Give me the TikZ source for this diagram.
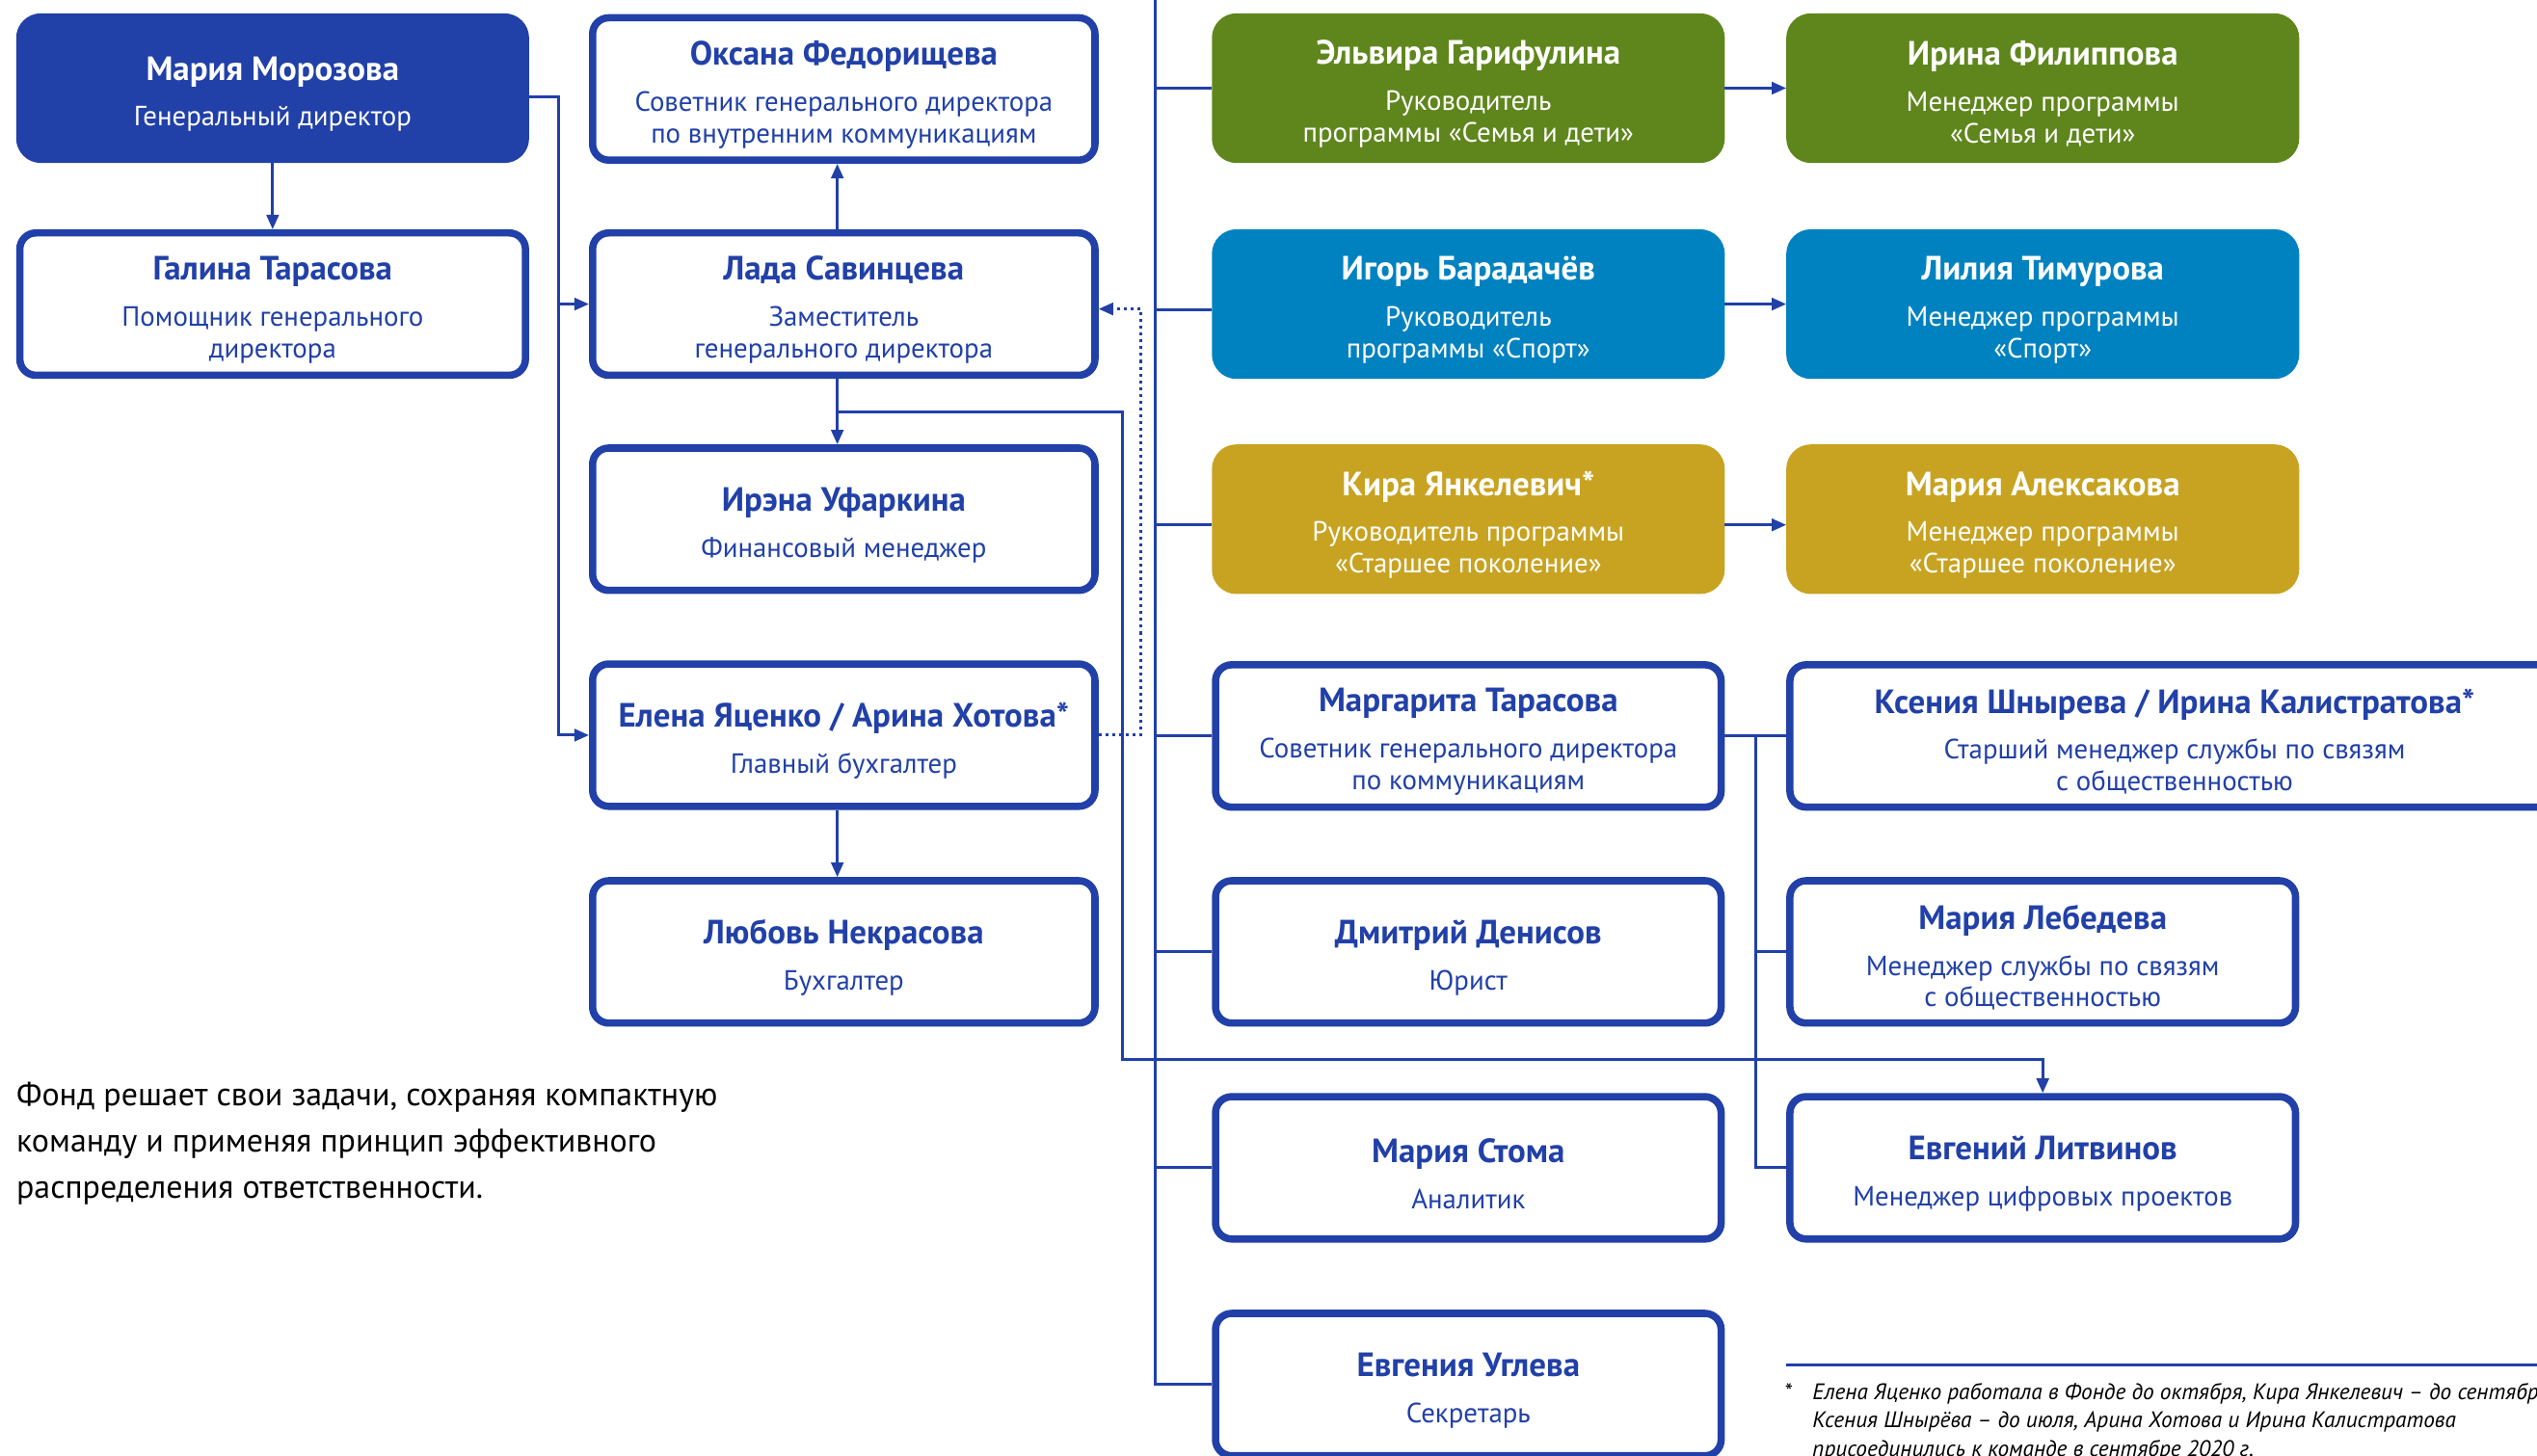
\documentclass[tikz,border=0pt]{standalone}
\usepackage{fontspec}
\setmainfont{PT Sans}
\usetikzlibrary{arrows.meta}
\definecolor{navy}{HTML}{2140A8}
\definecolor{grn}{HTML}{5F861D}
\definecolor{sky}{HTML}{0082C0}
\definecolor{gold}{HTML}{C8A322}
\newcommand\nmfont{\bfseries\fontsize{20.8}{23}\selectfont}
\newcommand\tlfont{\fontsize{17.2}{19.5}\selectfont}
\newcommand\bdfont{\fontsize{20.2}{28.5}\selectfont}
\newcommand\fnfont{\itshape\fontsize{13.9}{17.5}\selectfont}
\newcommand\nm[1]{{\nmfont\rule{0pt}{22pt}#1}}
\begin{document}
\begin{tikzpicture}[x=1pt,y=-1pt,
  box/.style={rounded corners=10pt, line width=4.5pt, minimum width=312.5pt, minimum height=88pt, inner sep=0pt, align=center, font=\tlfont},
  wbox/.style={box, draw=navy, fill=white, text=navy},
  cbox/.style={box, draw=#1, fill=#1, text=white, rounded corners=13pt},
  conn/.style={draw=navy, line width=1.8pt},
  arr/.style={conn, -{Triangle[length=9pt,width=7.5pt]}},
  dotarr/.style={arr, dash pattern=on 1.8pt off 2.4pt}]
\useasboundingbox (0,0) rectangle (1568,900);
\clip (0,0) rectangle (1568,900);

% column 1
\node[cbox=navy] (moroz) at (168.5,54.5) {\nm{Мария Морозова}\\[9pt]Генеральный директор};
\node[wbox] (galina) at (168.5,188) {\nm{Галина Тарасова}\\[9pt]Помощник генерального\\директора};

% column 2
\node[wbox, minimum width=310.5pt] (oksana) at (521.5,55) {\nm{Оксана Федорищева}\\[9pt]Советник генерального директора\\по внутренним коммуникациям};
\node[wbox, minimum width=310.5pt] (lada) at (521.5,188) {\nm{Лада Савинцева}\\[9pt]Заместитель\\генерального директора};
\node[wbox, minimum width=310.5pt] (irena) at (521.5,321) {\nm{Ирэна Уфаркина}\\[9pt]Финансовый менеджер};
\node[wbox, minimum width=310.5pt] (elena) at (521.5,454.5) {\nm{Елена Яценко / Арина Хотова*}\\[9pt]Главный бухгалтер};
\node[wbox, minimum width=310.5pt] (lubov) at (521.5,588.5) {\nm{Любовь Некрасова}\\[9pt]Бухгалтер};

% column 3
\node[cbox=grn] (elvira) at (907.5,54.5) {\nm{Эльвира Гарифулина}\\[9pt]Руководитель\\программы «Семья и дети»};
\node[cbox=sky] (igor) at (907.5,188) {\nm{Игорь Барадачёв}\\[9pt]Руководитель\\программы «Спорт»};
\node[cbox=gold] (kira) at (907.5,321) {\nm{Кира Янкелевич*}\\[9pt]Руководитель программы\\«Старшее поколение»};
\node[wbox] (margarita) at (907.5,455) {\nm{Маргарита Тарасова}\\[9pt]Советник генерального директора\\по коммуникациям};
\node[wbox] (dmitry) at (907.5,588.5) {\nm{Дмитрий Денисов}\\[9pt]Юрист};
\node[wbox] (stoma) at (907.5,722) {\nm{Мария Стома}\\[9pt]Аналитик};
\node[wbox] (evgenia) at (907.5,856) {\nm{Евгения Углева}\\[9pt]Секретарь};

% column 4
\node[cbox=grn] (irinaf) at (1262.5,54.5) {\nm{Ирина Филиппова}\\[9pt]Менеджер программы\\«Семья и дети»};
\node[cbox=sky] (lilia) at (1262.5,188) {\nm{Лилия Тимурова}\\[9pt]Менеджер программы\\«Спорт»};
\node[cbox=gold] (aleks) at (1262.5,321) {\nm{Мария Алексакова}\\[9pt]Менеджер программы\\«Старшее поколение»};
\node[wbox, minimum width=475.5pt] (ksenia) at (1344,455) {\nm{Ксения Шнырева / Ирина Калистратова*}\\[9pt]Старший менеджер службы по связям\\с общественностью};
\node[wbox] (lebedeva) at (1262.5,588.5) {\nm{Мария Лебедева}\\[9pt]Менеджер службы по связям\\с общественностью};
\node[wbox] (evgeniy) at (1262.5,722) {\nm{Евгений Литвинов}\\[9pt]Менеджер цифровых проектов};

% connectors
\coordinate (busA) at (345,454.5);
\draw[arr] (moroz.south) -- (galina.north);
\draw[arr] ([yshift=-5.5pt]moroz.east) -| (busA) -- (elena.west);
\draw[arr] (busA |- lada.west) -- (lada.west);
\draw[arr] ([xshift=-4pt]lada.north) -- ([xshift=-4pt]oksana.south);
\draw[arr] ([xshift=-4pt]lada.south) -- ([xshift=-4pt]irena.north);
\coordinate (j1) at (517.5,254.5);
\coordinate (cj) at (694,655);
\draw[arr] (j1) -| (cj) -| (evgeniy.north);
\draw[arr] ([xshift=-4pt]elena.south) -- ([xshift=-4pt]lubov.north);
\coordinate (dj) at (705,191);
\draw[dotarr] (elena.east) -| (dj) -- (dj -| lada.east);

\coordinate (trtop) at (714,0);
\draw[conn] (trtop) |- (evgenia.west);
\draw[conn] (trtop |- elvira.west) -- (elvira.west);
\draw[conn] ([yshift=-3.5pt]trtop |- igor.west) -- ([yshift=-3.5pt]igor.west);
\draw[conn] ([yshift=-3.5pt]trtop |- kira.west) -- ([yshift=-3.5pt]kira.west);
\draw[conn] (trtop |- margarita.west) -- (margarita.west);
\draw[conn] (trtop |- dmitry.west) -- (dmitry.west);
\draw[conn] (trtop |- stoma.west) -- (stoma.west);

\draw[arr] (elvira.east) -- (irinaf.west);
\draw[arr] (igor.east) -- (lilia.west);
\draw[arr] ([yshift=-3.5pt]kira.east) -- ([yshift=-3.5pt]aleks.west);

\coordinate (mj) at (1085,455);
\draw[conn] (margarita.east) -- (ksenia.west);
\draw[conn] (mj) |- (evgeniy.west);
\draw[conn] (mj |- lebedeva.west) -- (lebedeva.west);

% text
\node[anchor=north west, align=left, font=\bdfont, text=black, inner sep=0pt] (body) at (10,669) {Фонд решает свои задачи, сохраняя компактную\\команду и применяя принцип эффективного\\распределения ответственности.};

\draw[navy, line width=2pt] (1104,844) -- (1568,844);
\node[anchor=north west, font=\fnfont\upshape, inner sep=0pt] (star) at (1103,855) {*};
\node[anchor=north west, align=left, font=\fnfont, inner sep=0pt] (fn) at (1120,855) {Елена Яценко работала в Фонде до октября, Кира Янкелевич – до сентября,\\Ксения Шнырёва – до июля, Арина Хотова и Ирина Калистратова\\присоединились к команде в сентябре 2020 г.};
\end{tikzpicture}
\end{document}
